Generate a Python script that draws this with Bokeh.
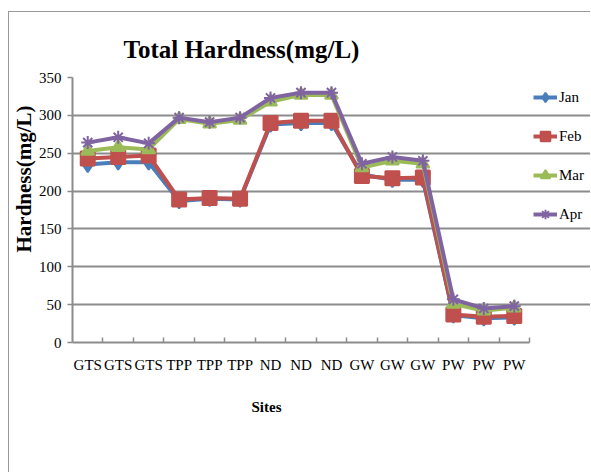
import numpy as np
from bokeh.plotting import figure
from bokeh.models import FixedTicker, Title
from bokeh.embed import file_html
from bokeh.resources import INLINE

# Sampling sites along the x axis
sites = ["GTS", "GTS", "GTS", "TPP", "TPP", "TPP", "ND", "ND", "ND",
         "GW", "GW", "GW", "PW", "PW", "PW"]

# Monthly total hardness (mg/L) at each site
jan = [235, 238, 238, 187, 190, 189, 288, 290, 290, 222, 215, 215, 36, 32, 33]
feb = [243, 245, 247, 189, 191, 190, 290, 293, 293, 220, 217, 218, 37, 34, 35]
mar = [253, 258, 255, 295, 289, 294, 318, 327, 327, 231, 240, 236, 51, 42, 46]
apr = [264, 271, 263, 297, 291, 297, 323, 330, 330, 236, 245, 240, 57, 45, 48]

months = ["Jan", "Feb", "Mar", "Apr"]
series = [jan, feb, mar, apr]
y_ticks = [0, 50, 100, 150, 200, 250, 300, 350]

colors = ["#4a7ebb", "#c0504d", "#9bbb59", "#8064a2"]
markers = ["diamond", "square", "triangle", "asterisk"]
marker_sizes = [15, 14, 13, 13]

FONT = "Liberation Serif"
GRAY = "#8c8c8c"

n = len(sites)
x = np.arange(n) + 0.5

# the frame runs to the right edge so the legend has room beside the axes;
# axis and grid are bounded to the site categories
x_end = n * 519 / 457

p = figure(width=582, height=461,
           x_range=(0, x_end), y_range=(0, 350),
           output_backend="svg", toolbar_location=None,
           min_border_left=63, min_border_right=0,
           min_border_top=65, min_border_bottom=131,
           background_fill_color="white", border_fill_color="white",
           outline_line_color=None)

# chart-area frame: only its left and top edges fall inside the page
p.styles = {"margin-left": "8px", "margin-top": "11px",
            "border-left": "1px solid #999999",
            "border-top": "1px solid #999999"}

p.title.text = "Total Hardness(mg/L)"
p.title.text_font = FONT
p.title.text_font_size = "25px"
p.title.text_font_style = "bold"
p.title.text_color = "black"
p.title.align = "left"
p.title.offset = 51
p.title.standoff = 30

# x axis: site names centred, small ticks on the category boundaries
xt = FixedTicker(ticks=list(x), minor_ticks=list(range(1, n + 1)))
p.xaxis.ticker = xt
p.xaxis.bounds = (0, n)
p.xaxis.major_label_overrides = {float(v): s for v, s in zip(x, sites)}
p.xaxis.major_tick_in = 0
p.xaxis.major_tick_out = 0
p.xaxis.minor_tick_in = 5
p.xaxis.minor_tick_out = 0
p.xaxis.minor_tick_line_color = GRAY
p.xaxis.minor_tick_line_width = 1.5
p.xaxis.major_label_standoff = 14

yt = FixedTicker(ticks=y_ticks)
p.yaxis.ticker = yt
p.yaxis.major_tick_in = 0
p.yaxis.major_tick_out = 5
p.yaxis.major_tick_line_color = GRAY
p.yaxis.major_tick_line_width = 1.5
p.yaxis.minor_tick_line_color = None
p.yaxis.major_label_standoff = 6

for ax in (p.xaxis, p.yaxis):
    ax.axis_line_color = GRAY
    ax.axis_line_width = 2
    ax.major_label_text_font = FONT
    ax.major_label_text_font_size = "15px"
    ax.major_label_text_color = "black"

p.xgrid.visible = False
p.ygrid.ticker = yt
p.ygrid.bounds = (0, n)
p.ygrid.grid_line_color = GRAY
p.ygrid.grid_line_width = 2

# axis titles
p.add_layout(Title(text="Hardness(mg/L)", align="left", offset=90,
                   text_font=FONT, text_font_size="21px",
                   text_font_style="bold", text_color="black",
                   standoff=0), "left")
p.add_layout(Title(text="Sites", align="left", offset=179,
                   text_font=FONT, text_font_size="15px",
                   text_font_style="bold", text_color="black",
                   standoff=42), "below")

for name, vals, c, m, s in zip(months, series, colors, markers, marker_sizes):
    p.line(x, vals, line_color=c, line_width=4, legend_label=name)
    p.scatter(x, vals, marker=m, size=s, fill_color=c, line_color=c,
              line_width=2, legend_label=name)

lg = p.legend[0]
lg.location = (461, 112)
lg.glyph_width = 24
lg.glyph_height = 32
lg.label_height = 32
lg.label_standoff = 2
lg.spacing = 7
lg.padding = 0
lg.margin = 0
lg.border_line_color = None
lg.background_fill_alpha = 0
lg.label_text_font = FONT
lg.label_text_font_size = "15px"
lg.label_text_color = "black"

open("out.html", "w").write(file_html(p, INLINE))
